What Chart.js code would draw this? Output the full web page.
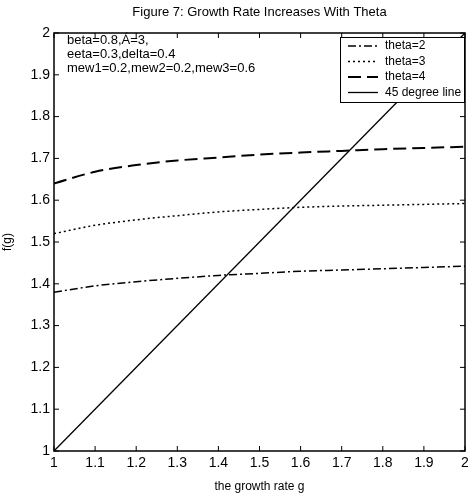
<!DOCTYPE html>
<html>
<head>
<meta charset="utf-8">
<script src="https://cdn.jsdelivr.net/npm/chart.js@4.4.0/dist/chart.umd.min.js"></script>
<style>
  html, body { margin: 0; padding: 0; background: #fff; }
  #wrap { width: 474px; height: 494px; }
</style>
</head>
<body>
<div id="wrap"><canvas id="growthChart"></canvas></div>
<script>
// growth rate g (x axis)
var gValues = [1.0, 1.1, 1.2, 1.3, 1.4, 1.5, 1.6, 1.7, 1.8, 1.9, 2.0];
// f(g) for each theta
var theta2 = [1.380, 1.395, 1.405, 1.413, 1.420, 1.425, 1.430, 1.433, 1.436, 1.439, 1.442];
var theta3 = [1.520, 1.540, 1.553, 1.563, 1.572, 1.578, 1.583, 1.586, 1.588, 1.590, 1.592];
var theta4 = [1.640, 1.668, 1.684, 1.695, 1.702, 1.709, 1.714, 1.718, 1.722, 1.725, 1.728];
var line45 = [1.0, 2.0];
var line45x = [1.0, 2.0];

var seriesNames = ["theta=2", "theta=3", "theta=4", "45 degree line"];
var paramText = ["beta=0.8,Á=3,", "eeta=0.3,delta=0.4", "mew1=0.2,mew2=0.2,mew3=0.6"];
var tickValues = [1.0, 1.1, 1.2, 1.3, 1.4, 1.5, 1.6, 1.7, 1.8, 1.9, 2.0];
var chartTitle = "Figure 7: Growth Rate Increases With Theta";

var FONT = '"Liberation Sans Narrow", "Liberation Sans", Arial, sans-serif';

function pairs(xs, ys) {
  return xs.map(function(x, i) { return { x: x, y: ys[i] }; });
}

// title, frame, inward ticks, notes and legend box
var framePlugin = {
  id: "frame",
  afterDatasetsDraw: function(chart) {
    var ctx = chart.ctx;
    var a = chart.chartArea;
    var xs = chart.scales.x, ys = chart.scales.y;
    ctx.save();
    ctx.fillStyle = "#000";
    ctx.font = "13px " + FONT;
    ctx.textAlign = "center";
    ctx.textBaseline = "middle";
    ctx.fillText(chartTitle, (a.left + a.right) / 2, 12);

    ctx.strokeStyle = "#000";
    ctx.lineWidth = 1.5;
    ctx.strokeRect(a.left, a.top, a.right - a.left, a.bottom - a.top);

    ctx.lineWidth = 1;
    ctx.beginPath();
    tickValues.forEach(function(v) {
      var px = xs.getPixelForValue(v);
      ctx.moveTo(px, a.bottom); ctx.lineTo(px, a.bottom - 5);
      ctx.moveTo(px, a.top); ctx.lineTo(px, a.top + 5);
      var py = ys.getPixelForValue(v);
      ctx.moveTo(a.left, py); ctx.lineTo(a.left + 5, py);
      ctx.moveTo(a.right, py); ctx.lineTo(a.right - 5, py);
    });
    ctx.stroke();

    // parameter notes
    ctx.font = "13px " + FONT;
    ctx.textAlign = "left";
    paramText.forEach(function(t, i) {
      ctx.fillText(t, a.left + 13, a.top + 7 + i * 14);
    });

    // legend box
    var bx = 340, by = 37, bw = a.right - 340, bh = 66;
    ctx.fillStyle = "#fff";
    ctx.fillRect(bx, by, bw, bh);
    ctx.lineWidth = 1;
    ctx.strokeRect(bx + 0.5, by + 0.5, bw - 1, bh - 1);
    ctx.font = "12px " + FONT;
    chart.data.datasets.forEach(function(ds, i) {
      var ly = by + 9 + i * 15.5;
      ctx.beginPath();
      ctx.setLineDash(ds.borderDash || []);
      ctx.lineWidth = ds.borderWidth;
      ctx.strokeStyle = "#000";
      ctx.moveTo(bx + 8, ly); ctx.lineTo(bx + 38, ly);
      ctx.stroke();
      ctx.setLineDash([]);
      ctx.fillStyle = "#000";
      ctx.fillText(ds.label, bx + 45, ly);
    });
    ctx.restore();
  }
};

var ctx = document.getElementById("growthChart").getContext("2d");

var growthChart = new Chart(ctx, {
  type: "line",
  data: {
    datasets: [
      { label: seriesNames[0], data: pairs(gValues, theta2), borderDash: [8, 3, 2, 3], borderWidth: 1.5 },
      { label: seriesNames[1], data: pairs(gValues, theta3), borderDash: [2, 3], borderWidth: 1.5 },
      { label: seriesNames[2], data: pairs(gValues, theta4), borderDash: [13, 6], borderWidth: 2 },
      { label: seriesNames[3], data: pairs(line45x, line45), borderWidth: 1.3 }
    ].map(function(d) {
      d.borderColor = "#000";
      d.pointRadius = 0;
      d.fill = false;
      d.cubicInterpolationMode = "monotone";
      return d;
    })
  },
  options: {
    responsive: true,
    maintainAspectRatio: false,
    animation: false,
    layout: { padding: { left: 0, right: 9, top: 33, bottom: 0 } },
    plugins: {
      legend: { display: false },
      tooltip: { enabled: false },
      title: { display: false }
    },
    scales: {
      x: {
        type: "linear",
        min: 1, max: 2,
        grid: { display: false, drawTicks: false },
        border: { display: false },
        ticks: {
          stepSize: 0.1, color: "#000", padding: 4,
          font: { family: FONT, size: 14 },
          callback: function(v) { return Math.round(v * 10) / 10; }
        },
        title: { display: true, text: "the growth rate g", color: "#000", padding: 0,
                 font: { family: FONT, size: 12 } },
        afterFit: function(s) { s.height = 43; }
      },
      y: {
        min: 1, max: 2,
        grid: { display: false, drawTicks: false },
        border: { display: false },
        ticks: {
          stepSize: 0.1, color: "#000", padding: 4,
          font: { family: FONT, size: 14 },
          callback: function(v) { return Math.round(v * 10) / 10; }
        },
        title: { display: true, text: "f(g)", color: "#000", padding: { top: 0, bottom: 0 },
                 font: { family: FONT, size: 12 } },
        afterFit: function(s) { s.width = 54; }
      }
    }
  },
  plugins: [framePlugin]
});
</script>
</body>
</html>
